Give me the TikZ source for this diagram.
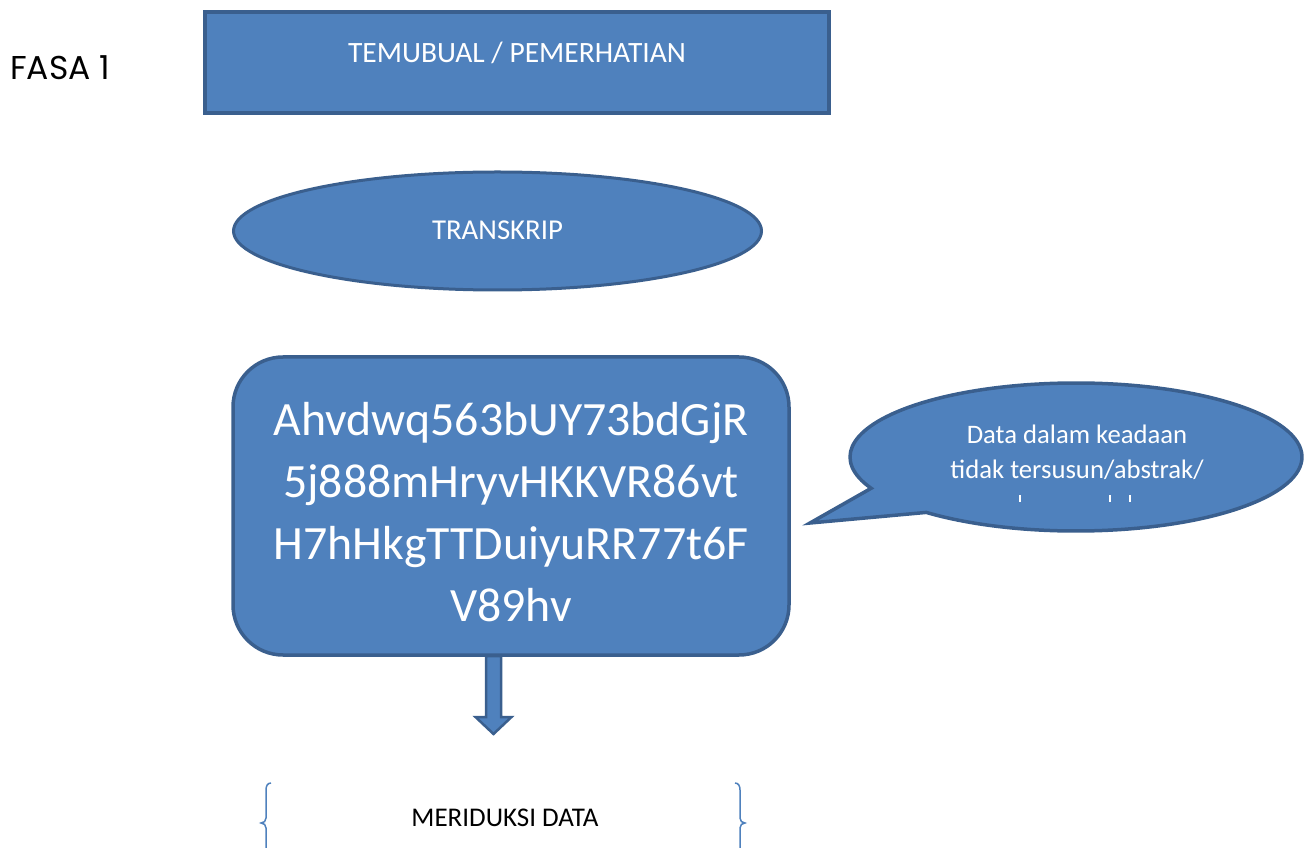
\documentclass[tikz,border=0pt]{standalone}
\usepackage{fontspec}
\setmainfont{Carlito}
\newfontfamily\fasafont{Poppins}
\usetikzlibrary{shapes.geometric,calc}
\definecolor{boxfill}{HTML}{4F81BD}
\definecolor{boxline}{HTML}{3A5F8E}
\tikzset{
  blueshape/.style={fill=boxfill, draw=boxline, line width=3.5pt},
  whitetext/.style={text=white, align=center},
}
\begin{document}
\begin{tikzpicture}[x=1pt, y=1pt]
  \useasboundingbox (0,0) rectangle (1309,847);
  \clip (0,0) rectangle (1309,847);

  % phase label
  \node[anchor=west, inner sep=0, font=\fasafont\fontsize{33}{38}\selectfont] (fasa) at (10,779) {FASA 1};

  % interview / observation box
  \node[blueshape, line width=4pt, rectangle, minimum width=624, minimum height=101] (obs) at (517,784.5) {};
  \node[whitetext, font=\fontsize{29.5}{35}\selectfont] (obstext) at (517,794) {TEMUBUAL / PEMERHATIAN};

  % transcript ellipse
  \node[blueshape, line width=3pt, ellipse, minimum width=528, minimum height=118, inner sep=0] (trans) at (497.5,616) {};
  \node[whitetext, font=\fontsize{28.8}{34}\selectfont] (transtext) at (497.5,617) {TRANSKRIP};

  % raw data box
  \node[blueshape, rectangle, rounded corners=50pt, minimum width=556, minimum height=298] (raw) at (511,341) {};
  \node[whitetext, font=\fontsize{47.8}{62}\selectfont] (rawtext) at (511,335)
    {Ahvdwq563bUY73bdGjR\\5j888mHryvHKKVR86vt\\H7hHkgTTDuiyuRR77t6F\\V89hv};

  % speech bubble
  \coordinate (bc) at (1076,390);
  \coordinate (tip) at (810,324);
  \draw[blueshape] ($(bc)+(228.5:226 and 74)$)
    arc[start angle=228.5, end angle=565, x radius=226, y radius=74]
    -- (tip) -- cycle;
  \node[whitetext, font=\fontsize{26.7}{35}\selectfont] (bubtext) at (1077,395)
    {Data dalam keadaan\\tidak tersusun/abstrak/};
  \foreach \tx in {1020,1110,1130}
    \fill[white] (\tx-1,345) rectangle (\tx+1,352);

  % block arrow down
  \coordinate (atop) at (493.5,191);
  \coordinate (atip) at (493.5,113);
  \draw[fill=boxfill, draw=boxline, line width=2.5pt, line join=miter]
    ($(atop)+(-7.5,0)$) -- ($(atop)+(7.5,0)$) -- ($(atip)+(7.5,17)$) -- ($(atip)+(18,17)$)
    -- (atip) -- ($(atip)+(-18,17)$) -- ($(atip)+(-7.5,17)$) -- cycle;

  % reduction step
  \node[font=\fontsize{27}{32}\selectfont] (reduce) at (505,29) {MERIDUKSI DATA};
  \draw[boxfill, line width=1.5pt] (271,64) .. controls (267.5,64) and (266,61) .. (266,57)
    -- (266,29) .. controls (266,26) and (264,24) .. (261,24)
    .. controls (264,24) and (266,22) .. (266,19) -- (266,-15);
  \draw[boxfill, line width=1.5pt] (735,64) .. controls (738.5,64) and (740,61) .. (740,57)
    -- (740,29) .. controls (740,26) and (742,24) .. (745,24)
    .. controls (742,24) and (740,22) .. (740,19) -- (740,-15);
\end{tikzpicture}
\end{document}
